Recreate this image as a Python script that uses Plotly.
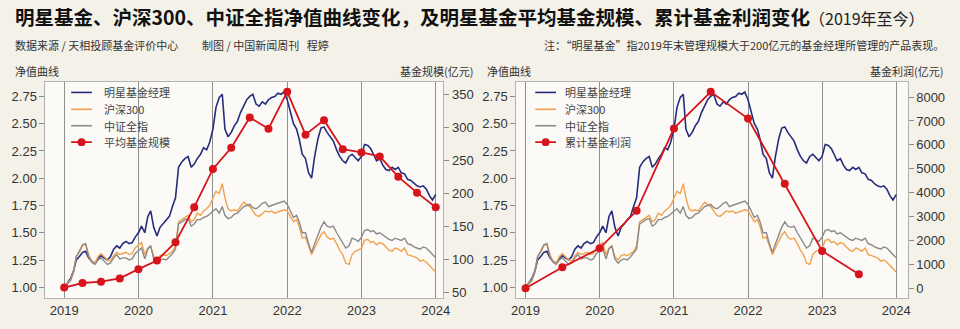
import pandas as pd
import plotly.graph_objects as go

# ---- data -------------------------------------------------------------
# Net-value curves sampled on the 1st and 16th of each month, 2019-01 .. 2024-01
nav_dates = [pd.Timestamp(y, m, d) for y in range(2019, 2024)
             for m in range(1, 13) for d in (1, 16)] + [pd.Timestamp(2024, 1, 1)]

star_nav = [
    # 2019
    1.00, 1.04, 1.08, 1.15, 1.25, 1.28, 1.32, 1.33, 1.27, 1.24, 1.22, 1.26,
    1.29, 1.27, 1.25, 1.28, 1.35, 1.38, 1.36, 1.40, 1.42, 1.40, 1.41, 1.46,
    # 2020
    1.50, 1.56, 1.50, 1.65, 1.70, 1.55, 1.47, 1.55, 1.58, 1.62, 1.65, 1.74,
    1.82, 2.10, 2.15, 2.18, 2.20, 2.10, 2.13, 2.18, 2.22, 2.28, 2.26, 2.33,
    # 2021
    2.45, 2.65, 2.74, 2.77, 2.45, 2.38, 2.42, 2.48, 2.52, 2.60, 2.66, 2.72,
    2.75, 2.77, 2.68, 2.66, 2.70, 2.68, 2.72, 2.74, 2.75, 2.78, 2.77, 2.79,
    # 2022
    2.72, 2.62, 2.50, 2.45, 2.36, 2.22, 2.18, 2.05, 2.00, 2.20, 2.36, 2.46,
    2.47, 2.42, 2.38, 2.34, 2.26, 2.20, 2.16, 2.14, 2.20, 2.22, 2.19, 2.16,
    # 2023
    2.20, 2.31, 2.30, 2.27, 2.22, 2.16, 2.18, 2.12, 2.08, 2.07, 2.10, 2.08,
    2.10, 2.05, 2.04, 1.99, 1.98, 1.95, 1.93, 1.92, 1.93, 1.90, 1.84, 1.80,
    # 2024
    1.85,
]

hs300_nav = [
    1.00, 1.04, 1.07, 1.15, 1.28, 1.32, 1.38, 1.40, 1.30, 1.24, 1.22, 1.28,
    1.31, 1.28, 1.25, 1.24, 1.29, 1.32, 1.30, 1.31, 1.32, 1.30, 1.31, 1.36,
    1.39, 1.41, 1.30, 1.36, 1.38, 1.28, 1.25, 1.29, 1.30, 1.29, 1.31, 1.33,
    1.38, 1.60, 1.62, 1.64, 1.66, 1.60, 1.62, 1.68, 1.66, 1.70, 1.72, 1.75,
    1.82, 1.88, 1.86, 1.95, 1.82, 1.72, 1.70, 1.71, 1.70, 1.74, 1.78, 1.76,
    1.74, 1.70, 1.66, 1.65, 1.68, 1.70, 1.69, 1.70, 1.68, 1.69, 1.70, 1.71,
    1.70, 1.65, 1.60, 1.62, 1.56, 1.45, 1.46, 1.38, 1.30, 1.36, 1.42, 1.48,
    1.51, 1.46, 1.44, 1.45, 1.40, 1.34, 1.30, 1.22, 1.21, 1.30, 1.33, 1.34,
    1.36, 1.43, 1.44, 1.41, 1.42, 1.39, 1.41, 1.40, 1.37, 1.34, 1.33, 1.36,
    1.35, 1.33, 1.36, 1.30, 1.29, 1.28, 1.27, 1.24, 1.25, 1.23, 1.20, 1.17,
    1.14,
]

csi_all_nav = [
    1.00, 1.03, 1.06, 1.14, 1.28, 1.33, 1.39, 1.40, 1.28, 1.23, 1.21, 1.25,
    1.27, 1.24, 1.21, 1.22, 1.27, 1.30, 1.26, 1.27, 1.27, 1.25, 1.26, 1.31,
    1.34, 1.36, 1.26, 1.35, 1.38, 1.26, 1.22, 1.25, 1.26, 1.25, 1.28, 1.31,
    1.35, 1.58, 1.60, 1.62, 1.63, 1.56, 1.58, 1.62, 1.62, 1.64, 1.65, 1.67,
    1.70, 1.72, 1.68, 1.74, 1.66, 1.63, 1.64, 1.67, 1.68, 1.71, 1.74, 1.75,
    1.76, 1.73, 1.72, 1.74, 1.77, 1.78, 1.74, 1.75, 1.76, 1.77, 1.78, 1.79,
    1.76, 1.70, 1.64, 1.66, 1.60, 1.50, 1.50, 1.40, 1.32, 1.40, 1.48, 1.55,
    1.60, 1.56, 1.55, 1.56, 1.50, 1.45, 1.40, 1.36, 1.38, 1.45, 1.44, 1.42,
    1.46, 1.52, 1.53, 1.51, 1.52, 1.49, 1.50, 1.48, 1.46, 1.44, 1.43, 1.45,
    1.44, 1.43, 1.45, 1.40, 1.39, 1.37, 1.36, 1.35, 1.37, 1.36, 1.33, 1.30,
    1.27,
]

# Average fund size of star managers (亿元), quarterly
size_dates = pd.date_range("2019-01-01", "2024-01-01", freq="QS")
avg_size = [57, 64, 66, 71, 85, 98, 126, 179, 237, 269, 315, 298,
            354, 289, 311, 267, 262, 256, 225, 201, 179]

# Cumulative fund profit (亿元), half-yearly
profit_dates = pd.date_range("2019-01-01", "2023-07-01", freq="6MS")
cum_profit = [0, 880, 1670, 3240, 6690, 8220, 7100, 4370, 1560, 590]

nav_names = ["明星基金经理", "沪深300", "中证全指"]
nav_series = [star_nav, hs300_nav, csi_all_nav]

# ---- style ------------------------------------------------------------
W, H = 960, 329
BG = "#f4f1e9"
PLOT_BG = "#fbfaf6"
NAVY = "#262d7c"
ORANGE = "#f2a24f"
GREY = "#8a8a8a"
RED = "#d5141c"
FONT = "Liberation Sans, Noto Sans CJK SC, sans-serif"
CJK = "Noto Sans CJK SC, sans-serif"
line_colors = [NAVY, ORANGE, GREY]
line_widths = [1.6, 1.4, 1.4]


def px_x(p):
    return p / W


def px_y(p):
    return 1 - p / H


fig = go.Figure()

# left panel: x / y / y2 ; right panel: x2 / y3 / y4
panels = [
    dict(x="x", y="y", y2="y2", red_name="平均基金规模",
         red_x=size_dates, red_y=avg_size, key_x=67, text_x=98),
    dict(x="x2", y="y3", y2="y4", red_name="累计基金利润",
         red_x=profit_dates, red_y=cum_profit, key_x=537, text_x=565),
]

shapes = []
annotations = []
key_rows = [93, 110, 126.5, 143]

for p in panels:
    for name, vals, col, lw in zip(nav_names, nav_series, line_colors, line_widths):
        fig.add_trace(go.Scatter(
            x=nav_dates, y=vals, name=name, mode="lines",
            line=dict(color=col, width=lw),
            xaxis=p["x"], yaxis=p["y"], hoverinfo="x+y+name",
        ))
    fig.add_trace(go.Scatter(
        x=p["red_x"], y=p["red_y"], name=p["red_name"], mode="lines+markers",
        line=dict(color=RED, width=1.8), marker=dict(color=RED, size=8),
        xaxis=p["x"], yaxis=p["y2"], hoverinfo="x+y+name",
    ))

    # key (legend) drawn in the upper-left corner of each panel
    names = nav_names + [p["red_name"]]
    colors = line_colors + [RED]
    for i, (name, col) in enumerate(zip(names, colors)):
        yy = key_rows[i]
        shapes.append(dict(type="line", xref="paper", yref="paper",
                           x0=px_x(p["key_x"]), x1=px_x(p["key_x"] + 21),
                           y0=px_y(yy), y1=px_y(yy),
                           line=dict(color=col, width=1.8 if i == 3 else 1.6)))
        if i == 3:
            cx = p["key_x"] + 10.5
            shapes.append(dict(type="circle", xref="paper", yref="paper",
                               x0=px_x(cx - 4), x1=px_x(cx + 4),
                               y0=px_y(yy + 4), y1=px_y(yy - 4),
                               fillcolor=RED, line=dict(color=RED, width=0)))
        annotations.append(dict(text=name, x=px_x(p["text_x"]), y=px_y(yy),
                                font=dict(family=CJK, size=11, color="#444444")))

x_common = dict(
    type="date", tickformat="%Y", dtick="M12", tick0="2019-01-01",
    showgrid=True, gridcolor="#8f8f8f", gridwidth=1.2,
    showline=True, linecolor="#b3b3b3", linewidth=1, mirror=True,
    ticks="", tickfont=dict(family=FONT, size=13, color="#333333"),
    zeroline=False,
)
y_common = dict(
    showgrid=False, zeroline=False, showline=True, linecolor="#b3b3b3",
    linewidth=1, ticks="outside", ticklen=5, tickcolor="#8a8a8a",
    tickfont=dict(family=FONT, size=13, color="#333333"),
)
nav_ticks = [1.00, 1.25, 1.50, 1.75, 2.00, 2.25, 2.50, 2.75]

y_dom = [px_y(300), px_y(82)]

fig.update_layout(
    width=W, height=H, margin=dict(l=0, r=0, t=0, b=0),
    paper_bgcolor=BG, plot_bgcolor=PLOT_BG, showlegend=False,
    xaxis=dict(x_common, domain=[px_x(41), px_x(444)], anchor="y",
               range=["2018-10-01", "2024-02-08"]),
    yaxis=dict(y_common, domain=y_dom, anchor="x", range=[0.90, 2.887],
               tickvals=nav_ticks, tickformat=".2f"),
    yaxis2=dict(y_common, overlaying="y", side="right", anchor="x",
                range=[41, 369.6], tickvals=list(range(50, 351, 50))),
    xaxis2=dict(x_common, domain=[px_x(517.7), px_x(914)], anchor="y3",
                range=["2018-11-16", "2024-02-26"]),
    yaxis3=dict(y_common, domain=y_dom, anchor="x2", range=[0.90, 2.887],
                tickvals=nav_ticks, tickformat=".2f"),
    yaxis4=dict(y_common, overlaying="y3", side="right", anchor="x2",
                range=[-416, 8652], tickvals=list(range(0, 8001, 1000))),
)

annotations += [
    dict(text="<b>明星基金、沪深300、中证全指净值曲线变化，及明星基金平均基金规模、累计基金利润变化</b>",
         x=px_x(8), y=px_y(17), font=dict(family=CJK, size=19.5, color="#111111")),
    dict(text="（2019年至今）", x=px_x(812), y=px_y(18),
         font=dict(family=CJK, size=16, color="#222222")),
    dict(text="数据来源 / 天相投顾基金评价中心", x=px_x(8), y=px_y(45),
         font=dict(family=CJK, size=11, color="#333333")),
    dict(text="制图 / 中国新闻周刊   程婷", x=px_x(197), y=px_y(45),
         font=dict(family=CJK, size=11, color="#333333")),
    dict(text="注：“明星基金”指2019年末管理规模大于200亿元的基金经理所管理的产品表现。",
         x=px_x(953), y=px_y(45), xanchor="right",
         font=dict(family=CJK, size=11, color="#333333")),
    dict(text="净值曲线", x=px_x(8), y=px_y(71),
         font=dict(family=CJK, size=11, color="#333333")),
    dict(text="净值曲线", x=px_x(486), y=px_y(71),
         font=dict(family=CJK, size=11, color="#333333")),
    dict(text="基金规模(亿元)", x=px_x(476), y=px_y(71), xanchor="right",
         font=dict(family=CJK, size=11, color="#333333")),
    dict(text="基金利润(亿元)", x=px_x(952), y=px_y(71), xanchor="right",
         font=dict(family=CJK, size=11, color="#333333")),
]
for a in annotations:
    a.setdefault("xanchor", "left")
    a.update(xref="paper", yref="paper", yanchor="middle", showarrow=False)
fig.update_layout(annotations=annotations, shapes=shapes)

fig.write_html("out.html")
